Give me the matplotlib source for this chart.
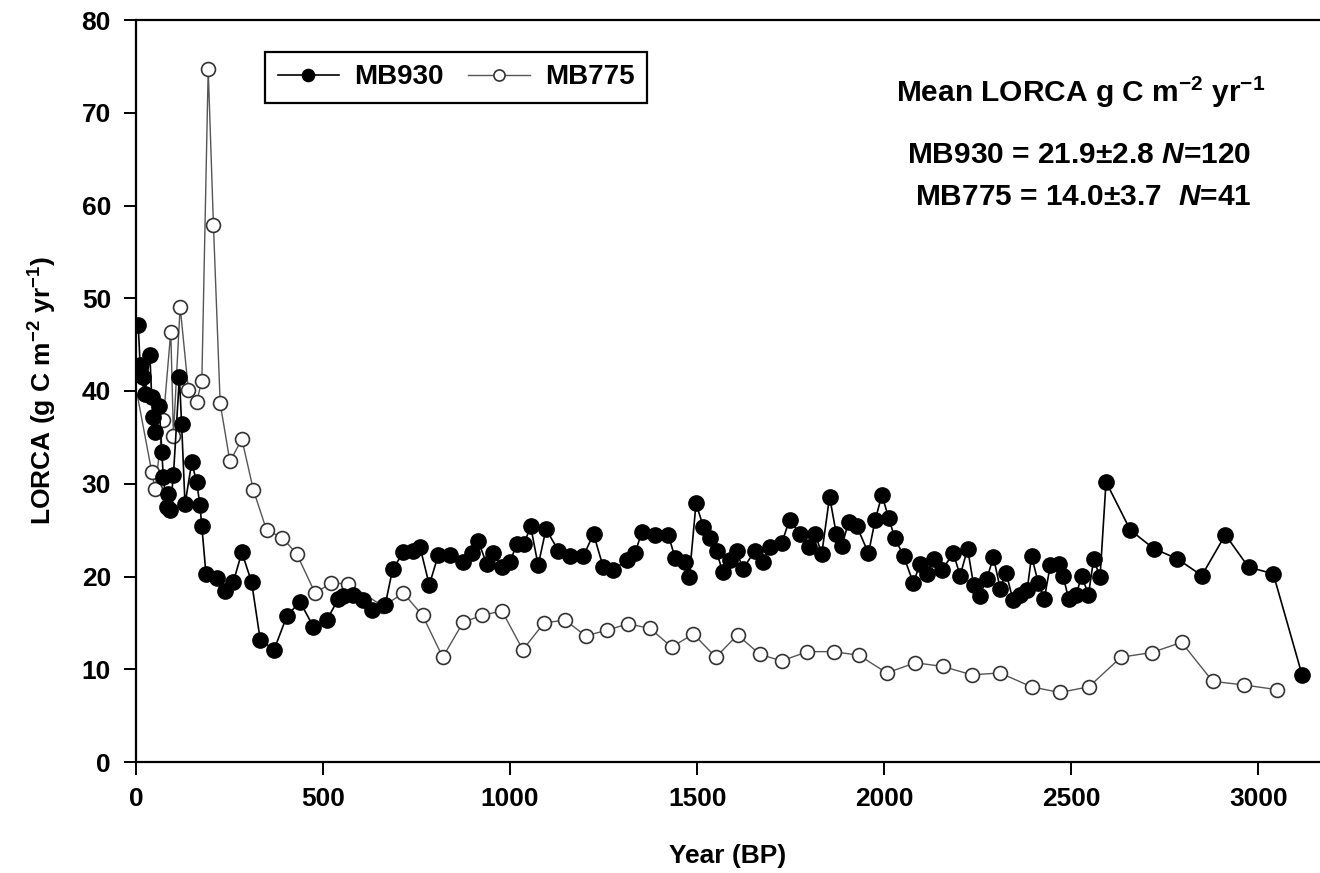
import matplotlib
matplotlib.use("Agg")
import matplotlib.pyplot as plt

plt.rcParams['font.family'] = ['Liberation Sans', 'DejaVu Sans']
plt.rcParams['font.weight'] = 'bold'
plt.rcParams['mathtext.fontset'] = 'custom'
plt.rcParams['mathtext.rm'] = 'Liberation Sans:bold'
plt.rcParams['mathtext.it'] = 'Liberation Sans:bold:italic'
plt.rcParams['mathtext.bf'] = 'Liberation Sans:bold'

# MB930 core (filled circles)
mb930_year = [6, 11, 20, 24, 37, 42, 46, 51, 62, 69, 73, 82, 86, 91, 100, 116, 122, 131,
              149, 162, 171, 176, 187, 216, 238, 260, 283, 309, 332, 369, 403, 438, 474,
              510, 541, 554, 581, 608, 630, 666, 686, 715, 741, 759, 784, 808, 840, 875,
              897, 915, 937, 955, 978, 1000, 1018, 1037, 1055, 1075, 1096, 1129, 1160,
              1196, 1223, 1249, 1276, 1312, 1334, 1352, 1388, 1423, 1441, 1468, 1479,
              1497, 1517, 1535, 1552, 1568, 1588, 1606, 1622, 1655, 1675, 1695, 1726,
              1747, 1775, 1798, 1816, 1833, 1854, 1872, 1887, 1905, 1927, 1958, 1976,
              1994, 2012, 2029, 2052, 2078, 2096, 2114, 2132, 2154, 2185, 2203, 2223,
              2239, 2255, 2274, 2292, 2310, 2326, 2344, 2364, 2382, 2394, 2412, 2428,
              2444, 2466, 2478, 2493, 2513, 2528, 2546, 2560, 2577, 2593, 2658, 2721,
              2784, 2849, 2912, 2974, 3040, 3117]
mb930_lorca = [47.1, 42.8, 41.5, 39.7, 43.9, 39.4, 37.2, 35.6, 38.4, 33.4, 30.7, 27.5, 28.9,
               27.2, 30.9, 41.5, 36.4, 27.8, 32.3, 30.2, 27.7, 25.4, 20.3, 19.8, 18.4, 19.4,
               22.6, 19.4, 13.2, 12.1, 15.7, 17.3, 14.6, 15.3, 17.6, 17.9, 18.0, 17.5, 16.4,
               16.9, 20.8, 22.6, 22.8, 23.2, 19.1, 22.3, 22.3, 21.6, 22.5, 23.8, 21.4, 22.5,
               21.0, 21.6, 23.5, 23.5, 25.4, 21.2, 25.1, 22.8, 22.2, 22.2, 24.6, 21.0, 20.7,
               21.8, 22.5, 24.8, 24.5, 24.5, 22.0, 21.6, 19.9, 27.9, 25.3, 24.1, 22.7, 20.5,
               21.8, 22.8, 20.8, 22.8, 21.6, 23.2, 23.6, 26.1, 24.6, 23.2, 24.6, 22.4, 28.6,
               24.6, 23.3, 25.9, 25.4, 22.5, 26.1, 28.8, 26.3, 24.1, 22.2, 19.3, 21.4, 20.3,
               21.9, 20.7, 22.5, 20.1, 23.0, 19.1, 17.9, 19.7, 22.1, 18.7, 20.4, 17.5, 18.0,
               18.5, 22.2, 19.3, 17.6, 21.2, 21.4, 20.1, 17.6, 18.0, 20.1, 18.0, 21.9, 19.9,
               30.2, 25.0, 23.0, 21.9, 20.1, 24.5, 21.0, 20.3, 9.4]

# MB775 core (open circles)
mb775_year = [0, 42, 51, 73, 93, 100, 118, 140, 162, 176, 193, 207, 225, 251, 283, 314,
              349, 391, 430, 479, 521, 568, 660, 715, 766, 820, 875, 926, 978, 1034, 1091,
              1147, 1202, 1258, 1316, 1374, 1432, 1490, 1550, 1608, 1668, 1726, 1795, 1865,
              1933, 2007, 2083, 2157, 2234, 2310, 2394, 2469, 2547, 2633, 2715, 2795, 2878,
              2963, 3050]
mb775_lorca = [40.3, 31.3, 29.4, 36.9, 46.4, 35.2, 49.1, 40.1, 38.8, 41.1, 74.7, 57.9, 38.7,
               32.4, 34.8, 29.3, 25.0, 24.2, 22.4, 18.2, 19.3, 19.2, 16.8, 18.2, 15.8, 11.3,
               15.1, 15.8, 16.3, 12.1, 15.0, 15.3, 13.6, 14.2, 14.9, 14.4, 12.4, 13.8, 11.3,
               13.7, 11.6, 10.9, 11.9, 11.9, 11.5, 9.6, 10.7, 10.3, 9.4, 9.6, 8.1, 7.5, 8.1,
               11.3, 11.8, 12.9, 8.7, 8.3, 7.8]

fig = plt.figure(figsize=(13.2, 8.73), dpi=100)
ax = fig.add_axes([136 / 1320, 111 / 873, 1184 / 1320, 742 / 873])

ax.plot(mb775_year, mb775_lorca, color='#555555', lw=1.0, marker='o', ms=10,
        mfc='white', mec='#333333', mew=1.2, label='MB775', zorder=2)
ax.plot(mb930_year, mb930_lorca, color='black', lw=1.2, marker='o', ms=11,
        mfc='black', mec='black', label='MB930', zorder=3)

ax.set_xlim(0, 3165)
ax.set_ylim(0, 80)
ax.set_xticks(range(0, 3001, 500))
ax.set_yticks(range(0, 81, 10))
ax.tick_params(direction='out', length=9, width=1.4, labelsize=19, pad=9)
for s in ['left', 'bottom', 'top']:
    ax.spines[s].set_linewidth(1.6)
ax.spines['right'].set_visible(False)

ax.set_xlabel('Year (BP)', fontsize=19, fontweight='bold', labelpad=24)
ax.set_ylabel(r'LORCA (g C m$^{-2}$ yr$^{-1}$)', fontsize=19, fontweight='bold', labelpad=16)

h, l = ax.get_legend_handles_labels()
leg = ax.legend(h[::-1], l[::-1], loc='upper left', bbox_to_anchor=(0.109, 0.957),
                ncol=2, borderaxespad=0, fancybox=False, framealpha=1, edgecolor='black',
                fontsize=20, markerscale=0.8, handlelength=2.2, columnspacing=0.9,
                handletextpad=0.55, borderpad=0.45)
leg.get_frame().set_linewidth(1.6)

ax.text(0.798, 0.902, r'Mean LORCA g C m$^{-2}$ yr$^{-1}$', transform=ax.transAxes,
        ha='center', va='center', fontsize=21.5, fontweight='bold')
ax.text(0.797, 0.818, r'MB930 = 21.9$\pm$2.8 $N$=120', transform=ax.transAxes,
        ha='center', va='center', fontsize=21.5, fontweight='bold')
ax.text(0.800, 0.761, r'MB775 = 14.0$\pm$3.7  $N$=41', transform=ax.transAxes,
        ha='center', va='center', fontsize=21.5, fontweight='bold')

fig.savefig('out.png', dpi=100)
